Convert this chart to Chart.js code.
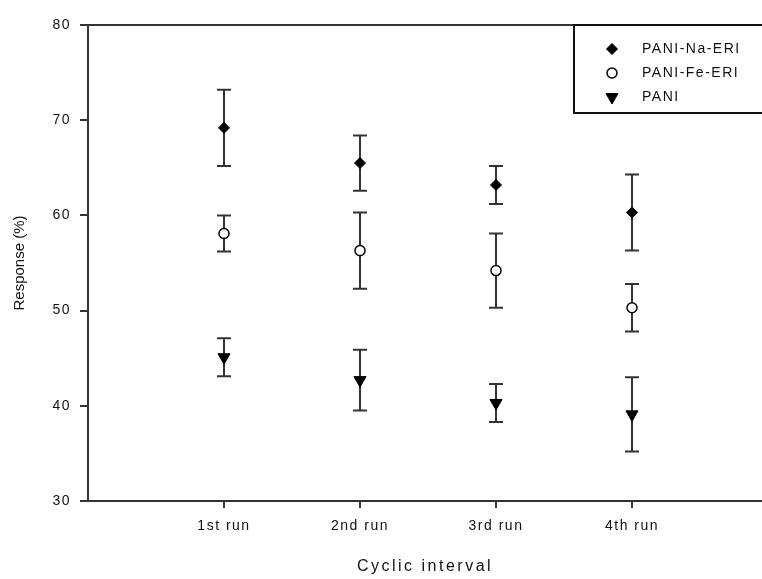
<!DOCTYPE html>
<html><head><meta charset="utf-8">
<script src="https://cdn.jsdelivr.net/npm/chart.js@4/dist/chart.umd.min.js"></script>
<style>html,body{margin:0;padding:0;background:#fff;overflow:hidden}#wrap{width:762px;height:579px}</style>
</head><body><div id="wrap"><canvas id="c" width="762" height="579"></canvas></div>
<script>
const categories = ["1st run", "2nd run", "3rd run", "4th run"];
const seriesNames = ["PANI-Na-ERI", "PANI-Fe-ERI", "PANI"];
const naValues = [69.2, 65.5, 63.2, 60.3];
const naErrors = [4.0, 2.9, 2.0, 4.0];
const feValues = [58.1, 56.3, 54.2, 50.3];
const feErrors = [1.9, 4.0, 3.9, 2.5];
const paniValues = [45.1, 42.7, 40.3, 39.1];
const paniErrors = [2.0, 3.2, 2.0, 3.9];
const yTicks = [30, 40, 50, 60, 70, 80];

const AX = '#333333';
const FONT = "'Liberation Sans', Arial, sans-serif";
Chart.defaults.font.family = FONT;
Chart.defaults.color = '#111';

const errorSets = [naErrors, feErrors, paniErrors];
const styles = [
  {pointStyle: 'rectRot', radius: 5.5, rotation: 0, bg: '#000', border: '#000', bw: 1},
  {pointStyle: 'circle', radius: 5, rotation: 0, bg: '#fff', border: '#000', bw: 1.5},
  {pointStyle: 'triangle', radius: 7, rotation: 180, bg: '#000', border: '#000', bw: 1}
];
const valueSets = [naValues, feValues, paniValues];

const datasets = seriesNames.map((name, di) => ({
  label: name,
  data: categories.map((c, i) => ({x: i + 1, y: valueSets[di][i]})),
  pointStyle: styles[di].pointStyle,
  pointRadius: styles[di].radius,
  pointRotation: styles[di].rotation,
  pointBackgroundColor: styles[di].bg,
  pointBorderColor: styles[di].border,
  pointBorderWidth: styles[di].bw,
  showLine: false,
  clip: false
}));

function withSpacing(scale, fnName, spacing) {
  const flag = '_ls_' + fnName;
  if (scale[flag]) return;
  scale[flag] = true;
  const orig = scale[fnName];
  scale[fnName] = function (...args) {
    const ctx = this.ctx;
    const prev = ctx.letterSpacing;
    ctx.letterSpacing = spacing;
    try { return orig.apply(this, args); } finally { ctx.letterSpacing = prev || '0px'; }
  };
}

const spacingPlugin = {
  id: 'spacing',
  beforeDraw(chart) {
    withSpacing(chart.scales.x, 'drawLabels', '1.5px');
    withSpacing(chart.scales.x, 'drawTitle', '2.5px');
    withSpacing(chart.scales.y, 'drawLabels', '1.5px');
  }
};

const errorBars = {
  id: 'errorBars',
  beforeDatasetsDraw(chart) {
    const ctx = chart.ctx, xs = chart.scales.x, ys = chart.scales.y;
    ctx.save();
    ctx.strokeStyle = AX;
    ctx.lineWidth = 2;
    chart.data.datasets.forEach((ds, di) => {
      ds.data.forEach((p, i) => {
        const e = errorSets[di][i];
        const x = xs.getPixelForValue(p.x);
        const yt = ys.getPixelForValue(p.y + e);
        const yb = ys.getPixelForValue(p.y - e);
        ctx.beginPath();
        ctx.moveTo(x, yt); ctx.lineTo(x, yb);
        ctx.moveTo(x - 7, yt); ctx.lineTo(x + 7, yt);
        ctx.moveTo(x - 7, yb); ctx.lineTo(x + 7, yb);
        ctx.stroke();
      });
    });
    ctx.restore();
  }
};

const frameAndLegend = {
  id: 'frameAndLegend',
  afterDraw(chart) {
    const ctx = chart.ctx, a = chart.chartArea;
    ctx.save();
    ctx.strokeStyle = AX;
    ctx.lineWidth = 2;
    ctx.beginPath();
    ctx.moveTo(a.left - 8, a.top); ctx.lineTo(chart.width + 2, a.top);
    ctx.stroke();
    // legend box
    ctx.strokeStyle = '#111';
    ctx.lineWidth = 2;
    ctx.strokeRect(574, a.top, 200, 88);
    ctx.font = "14px " + FONT;
    ctx.letterSpacing = '1.5px';
    ctx.textBaseline = 'middle';
    ctx.textAlign = 'left';
    chart.data.datasets.forEach((ds, di) => {
      const y = 49 + di * 24;
      const s = styles[di];
      ctx.fillStyle = s.bg; ctx.strokeStyle = s.border; ctx.lineWidth = s.bw;
      Chart.helpers.drawPoint(ctx, {pointStyle: s.pointStyle, radius: s.radius, rotation: s.rotation, borderWidth: s.bw}, 612, y);
      ctx.fillStyle = '#111';
      ctx.fillText(ds.label, 642, y);
    });
    ctx.letterSpacing = '0px';
    ctx.restore();
  }
};

new Chart(document.getElementById('c'), {
  type: 'scatter',
  data: {datasets},
  options: {
    responsive: false,
    animation: false,
    devicePixelRatio: 1,
    layout: {autoPadding: false, padding: {top: 25, right: 0, bottom: 0, left: 0}},
    plugins: {legend: {display: false}, tooltip: {enabled: false}},
    scales: {
      x: {
        type: 'linear',
        min: 0,
        max: 674 / 136,
        afterBuildTicks(s) { s.ticks = categories.map((c, i) => ({value: i + 1})); },
        afterFit(s) { s.height = 78; s.paddingLeft = 0; s.paddingRight = 0; },
        ticks: {
          callback: (v) => categories[v - 1] || '',
          font: {size: 14},
          color: '#111',
          padding: 10,
          maxRotation: 0
        },
        grid: {drawOnChartArea: false, drawTicks: true, tickLength: 7, color: AX, lineWidth: 2},
        border: {display: true, color: AX, width: 2},
        title: {display: true, text: 'Cyclic interval', font: {size: 16}, color: '#111', padding: {top: 0, bottom: 3}}
      },
      y: {
        min: 30,
        max: 80,
        afterBuildTicks(s) { s.ticks = yTicks.map(v => ({value: v})); },
        afterFit(s) { s.width = 88; s.paddingTop = 0; s.paddingBottom = 0; },
        ticks: {font: {size: 14}, color: '#111', padding: 9},
        grid: {drawOnChartArea: false, drawTicks: true, tickLength: 8, color: AX, lineWidth: 2},
        border: {display: true, color: AX, width: 2},
        title: {display: true, text: 'Response (%)', font: {size: 15}, color: '#111', padding: {top: 11, bottom: 0}}
      }
    }
  },
  plugins: [spacingPlugin, errorBars, frameAndLegend]
});
</script>
</body></html>
